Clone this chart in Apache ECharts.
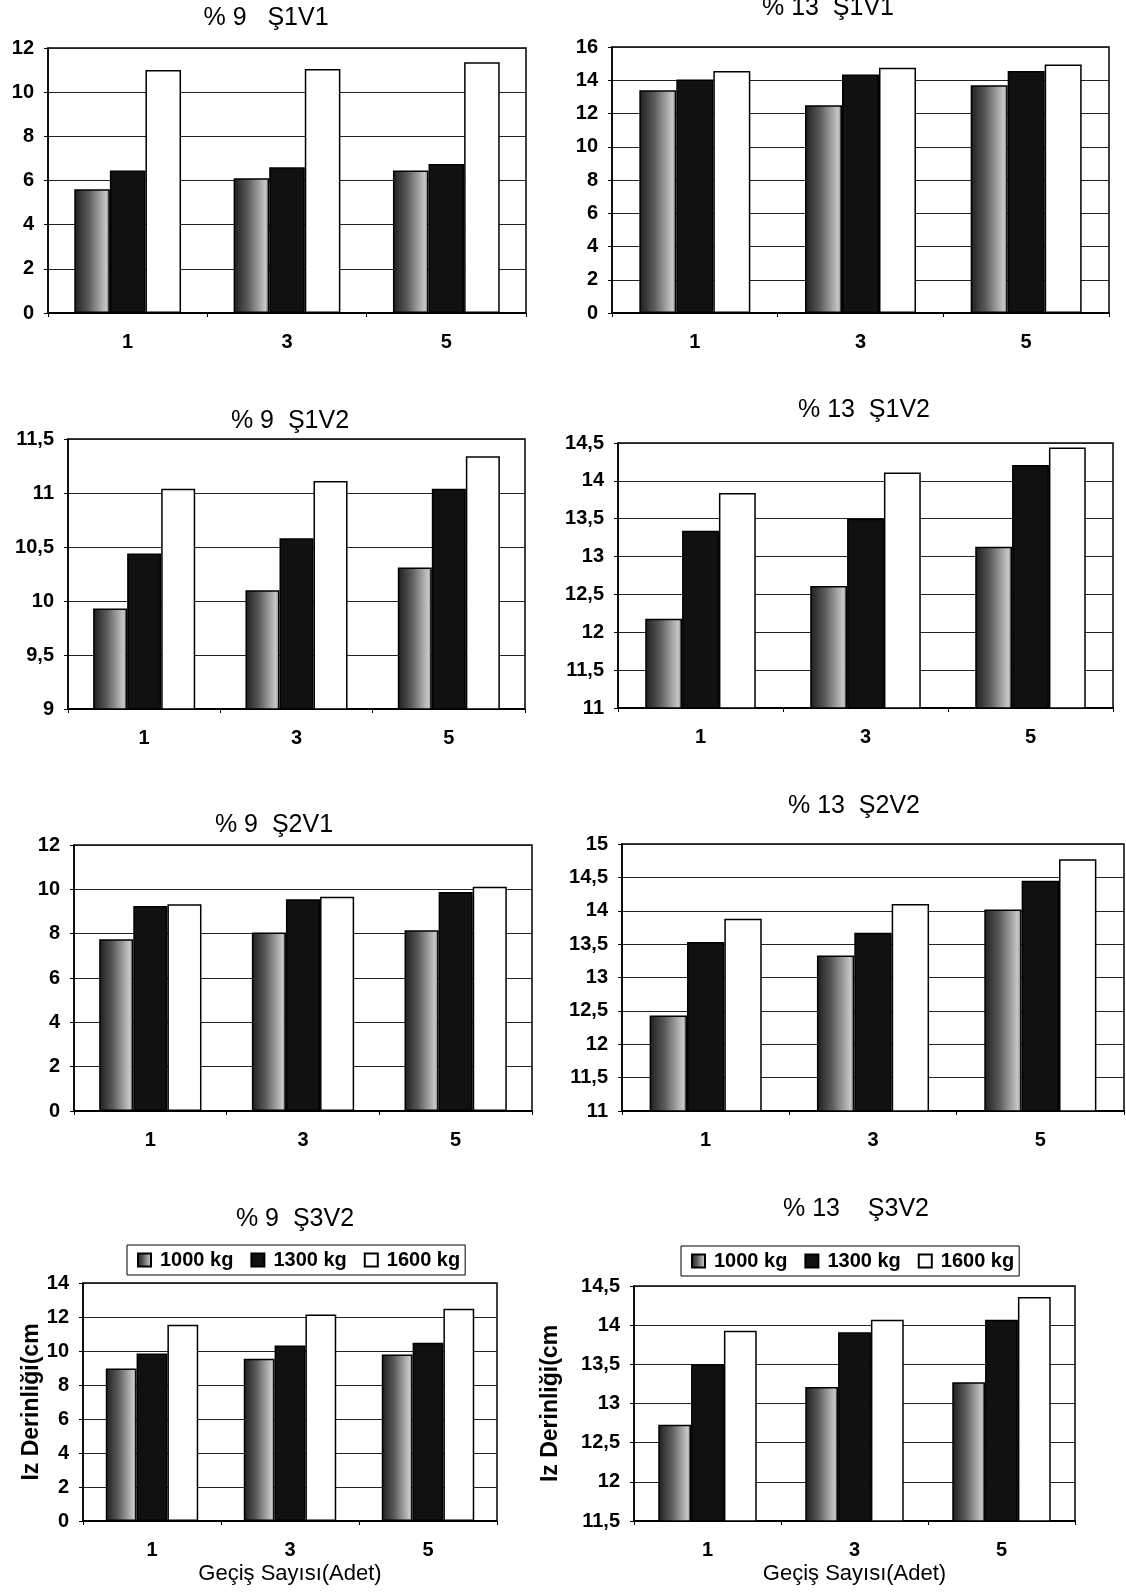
<!DOCTYPE html>
<html><head><meta charset="utf-8">
<script src="https://cdn.jsdelivr.net/npm/echarts@6/dist/echarts.min.js"></script>
<style>html,body{margin:0;padding:0;background:#fff}#c{width:1126px;height:1593px}</style>
</head><body><div id="c"></div>
<script>
// ---------- DATA ----------
const categories = ['1', '3', '5'];
const seriesNames = ['1000 kg', '1300 kg', '1600 kg'];
const chartTitles = ['% 9   Ş1V1', '% 13  Ş1V1', '% 9  Ş1V2', '% 13  Ş1V2', '% 9  Ş2V1', '% 13  Ş2V2', '% 9  Ş3V2', '% 13    Ş3V2'];
const yAxisTitle = 'Iz Derinliği(cm';
const xAxisTitle = 'Geçiş Sayısı(Adet)';

// % 9 Ş1V1
const c1_1000 = [5.6, 6.1, 6.45];
const c1_1300 = [6.45, 6.6, 6.75];
const c1_1600 = [11.0, 11.05, 11.35];
// % 13 Ş1V1
const c2_1000 = [13.4, 12.5, 13.7];
const c2_1300 = [14.05, 14.35, 14.55];
const c2_1600 = [14.55, 14.75, 14.95];
// % 9 Ş1V2
const c3_1000 = [9.93, 10.1, 10.31];
const c3_1300 = [10.44, 10.58, 11.04];
const c3_1600 = [11.04, 11.11, 11.34];
// % 13 Ş1V2
const c4_1000 = [12.18, 12.61, 13.13];
const c4_1300 = [13.34, 13.5, 14.21];
const c4_1600 = [13.84, 14.11, 14.44];
// % 9 Ş2V1
const c5_1000 = [7.75, 8.05, 8.15];
const c5_1300 = [9.25, 9.55, 9.88];
const c5_1600 = [9.33, 9.67, 10.12];
// % 13 Ş2V2
const c6_1000 = [12.43, 13.33, 14.02];
const c6_1300 = [13.53, 13.67, 14.45];
const c6_1600 = [13.88, 14.1, 14.77];
// % 9 Ş3V2
const c7_1000 = [8.97, 9.55, 9.8];
const c7_1300 = [9.85, 10.33, 10.49];
const c7_1600 = [11.55, 12.15, 12.48];
// % 13 Ş3V2
const c8_1000 = [12.73, 13.21, 13.27];
const c8_1300 = [13.5, 13.91, 14.07];
const c8_1600 = [13.93, 14.07, 14.36];

// y-axis tick ranges (tick labels)
const yMin  = [0, 0, 9, 11, 0, 11, 0, 11.5];
const yMax  = [12, 16, 11.5, 14.5, 12, 15, 14, 14.5];
const yStep = [2, 2, 0.5, 0.5, 2, 0.5, 2, 0.5];

const allData = [
  [c1_1000, c1_1300, c1_1600], [c2_1000, c2_1300, c2_1600],
  [c3_1000, c3_1300, c3_1600], [c4_1000, c4_1300, c4_1600],
  [c5_1000, c5_1300, c5_1600], [c6_1000, c6_1300, c6_1600],
  [c7_1000, c7_1300, c7_1600], [c8_1000, c8_1300, c8_1600]
];

// ---------- LAYOUT / STYLE ----------
const FONT = '"Liberation Sans", Arial, sans-serif';
const grids = [
  {left: 48, top: 48, width: 478, height: 265},
  {left: 612, top: 47, width: 497, height: 266},
  {left: 68, top: 439, width: 457, height: 270},
  {left: 618, top: 443, width: 495, height: 265},
  {left: 74, top: 845, width: 458, height: 266},
  {left: 622, top: 844, width: 502, height: 267},
  {left: 83, top: 1283, width: 414, height: 238},
  {left: 634, top: 1286, width: 441, height: 235}
];
const titlePos = [[266, 18], [828, 8], [290, 421], [864, 410], [274, 825], [854, 806], [295, 1219], [856, 1209]];

const grayFill = new echarts.graphic.LinearGradient(0, 0, 1, 0, [
  {offset: 0, color: '#1e1e1e'}, {offset: 0.4, color: '#5a5a5a'},
  {offset: 0.75, color: '#a8a8a8'}, {offset: 0.9, color: '#c8c8c8'}, {offset: 1, color: '#6a6a6a'}
]);
const fills = [grayFill, '#111111', '#ffffff'];

const fmt = v => String(v).replace('.', ',');

const option = {
  backgroundColor: '#ffffff',
  animation: false,
  textStyle: {fontFamily: FONT},
  grid: [], xAxis: [], yAxis: [], series: [],
  legend: [
    {left: 127, top: 1245, data: seriesNames},
    {left: 681, top: 1246, data: seriesNames}
  ].map(l => Object.assign(l, {
    orient: 'horizontal', icon: 'rect', itemWidth: 13, itemHeight: 13, itemGap: 17,
    padding: [5, 5, 5, 10],
    borderColor: '#000', borderWidth: 1, backgroundColor: '#fff',
    selectedMode: false,
    textStyle: {fontFamily: FONT, fontSize: 20, fontWeight: 'bold', color: '#000', padding: [0, 0, 0, 4]}
  })),
  graphic: chartTitles.map((t, i) => ({
    type: 'text', x: titlePos[i][0], y: titlePos[i][1],
    style: {text: t, fill: '#000', fontFamily: FONT, fontSize: 25, textAlign: 'center', textVerticalAlign: 'middle'}
  }))
};

grids.forEach((g, i) => {
  option.grid.push(Object.assign({show: true, borderColor: '#000', borderWidth: 1.5, backgroundColor: '#fff'}, g));
  const last = i >= 6;
  option.xAxis.push({
    type: 'category', gridIndex: i, data: categories,
    axisLine: {show: true, lineStyle: {color: '#000', width: 2}},
    axisTick: {show: true, length: 4, lineStyle: {color: '#000'}},
    axisLabel: {color: '#000', fontSize: 20, fontWeight: 'bold', margin: 19, fontFamily: FONT},
    name: last ? xAxisTitle : '', nameLocation: 'middle', nameGap: 42,
    nameTextStyle: {color: '#000', fontSize: 22, fontFamily: FONT}
  });
  option.yAxis.push({
    type: 'value', gridIndex: i, min: yMin[i], max: yMax[i], interval: yStep[i],
    axisLine: {show: true, lineStyle: {color: '#000', width: 1.5}},
    axisTick: {show: true, length: 4, lineStyle: {color: '#000'}},
    axisLabel: {color: '#000', fontSize: 20, fontWeight: 'bold', margin: 14, formatter: fmt, fontFamily: FONT},
    splitLine: {show: true, lineStyle: {color: '#222', width: 1}},
    name: last ? yAxisTitle : '', nameLocation: 'middle', nameRotate: 90, nameGap: i === 6 ? 35 : 72,
    nameTextStyle: {color: '#000', fontSize: 23, fontWeight: 'bold', fontFamily: FONT}
  });
  allData[i].forEach((vals, s) => {
    option.series.push({
      type: 'bar', name: seriesNames[s], xAxisIndex: i, yAxisIndex: i, data: vals,
      barGap: '0%', barCategoryGap: '33%',
      itemStyle: {color: fills[s], borderColor: '#000', borderWidth: 1.5},
      emphasis: {disabled: true}
    });
  });
});

const chart = echarts.init(document.getElementById('c'), null, {renderer: 'canvas'});
chart.setOption(option);
</script>
</body></html>
